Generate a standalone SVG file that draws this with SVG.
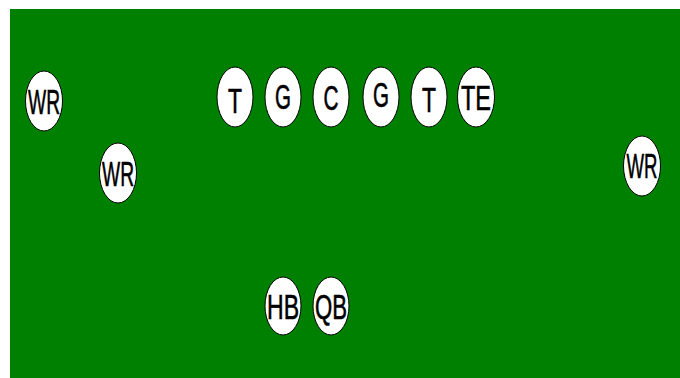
<svg xmlns="http://www.w3.org/2000/svg" width="680" height="378" viewBox="0 0 680 378">
<style>
.p{fill:#fff;stroke:#000;stroke-width:1}
.t{font-family:"Liberation Sans",Arial,sans-serif;font-size:35px;fill:#000;stroke:#000;stroke-width:0.6;text-anchor:middle}
</style>
<rect x="0" y="0" width="680" height="378" fill="#fff"/>
<rect id="field" x="10" y="9" width="670" height="369" fill="#008000"/>
<g id="connectors"/>
<g id="wr1"><ellipse class="p" cx="44" cy="101" rx="18.5" ry="30"/><text class="t" x="44" y="114" textLength="32" lengthAdjust="spacingAndGlyphs">WR</text></g>
<g id="wr2"><ellipse class="p" cx="118" cy="173" rx="18.5" ry="30"/><text class="t" x="118" y="186" textLength="32" lengthAdjust="spacingAndGlyphs">WR</text></g>
<g id="wr3"><ellipse class="p" cx="642" cy="166" rx="18.5" ry="30"/><text class="t" x="642" y="178" font-size="33" textLength="31" lengthAdjust="spacingAndGlyphs">WR</text></g>
<g id="lt"><ellipse class="p" cx="235" cy="97" rx="18" ry="30"/><text class="t" x="235" y="113" textLength="14" lengthAdjust="spacingAndGlyphs">T</text></g>
<g id="lg"><ellipse class="p" cx="283" cy="97" rx="18" ry="30"/><text class="t" x="283" y="109" textLength="16" lengthAdjust="spacingAndGlyphs">G</text></g>
<g id="c"><ellipse class="p" cx="331" cy="97" rx="18" ry="30"/><text class="t" x="331" y="110" textLength="15" lengthAdjust="spacingAndGlyphs">C</text></g>
<g id="rg"><ellipse class="p" cx="381" cy="97" rx="18" ry="30"/><text class="t" x="381" y="107" textLength="16" lengthAdjust="spacingAndGlyphs">G</text></g>
<g id="rt"><ellipse class="p" cx="429" cy="97" rx="18" ry="30"/><text class="t" x="429" y="112" textLength="14" lengthAdjust="spacingAndGlyphs">T</text></g>
<g id="te"><ellipse class="p" cx="476" cy="97" rx="18.5" ry="30"/><text class="t" x="476" y="110" textLength="30" lengthAdjust="spacingAndGlyphs">TE</text></g>
<g id="hb"><ellipse class="p" cx="283" cy="306" rx="18" ry="29"/><text class="t" x="283" y="319" textLength="32" lengthAdjust="spacingAndGlyphs">HB</text></g>
<g id="qb"><ellipse class="p" cx="331" cy="306" rx="18" ry="29"/><text class="t" x="331" y="319" textLength="32" lengthAdjust="spacingAndGlyphs">QB</text></g>
</svg>
